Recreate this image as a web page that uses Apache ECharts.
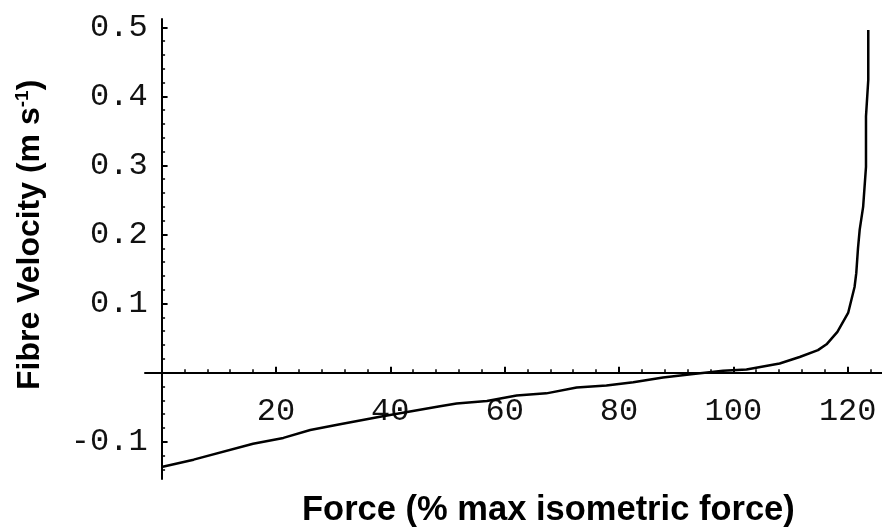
<!DOCTYPE html>
<html>
<head>
<meta charset="utf-8">
<script src="https://cdn.jsdelivr.net/npm/echarts@6/dist/echarts.min.js"></script>
<style>html,body{margin:0;padding:0;background:#fff}#c{width:882px;height:527px}</style>
</head>
<body>
<div id="c"></div>
<script>
// Force (% max isometric force)
var forceValues = [0, 5.6, 16, 21.3, 26, 31.2, 38.2, 48.7, 51.6, 56.9, 62.1, 67.3, 72.6, 77.8, 82.5, 87.7, 93, 98.2, 102.3, 108.1, 111.6, 114.8, 116.3, 118.2, 120.1, 121.2, 121.5, 121.8, 122.1, 122.7, 123.2, 123.2, 123.6, 123.6];
// Fibre velocity (m s^-1)
var velocityValues = [-0.1365, -0.126, -0.103, -0.0945, -0.083, -0.0746, -0.064, -0.0486, -0.0447, -0.041, -0.033, -0.030, -0.0215, -0.0186, -0.0138, -0.007, -0.002, 0.0026, 0.0046, 0.0133, 0.0226, 0.0326, 0.041, 0.059, 0.087, 0.124, 0.144, 0.18, 0.207, 0.240, 0.298, 0.371, 0.424, 0.496];

var xTickLabels = [20, 40, 60, 80, 100, 120];
var xMinorTicks = [4, 8, 12, 16, 24, 28, 32, 36, 44, 48, 52, 56, 64, 68, 72, 76, 84, 88, 92, 96, 104, 108, 112, 116, 124];
var yTickLabels = [-0.1, 0.1, 0.2, 0.3, 0.4, 0.5];
var yMinorTicks = [-0.14, -0.12, -0.08, -0.06, -0.04, -0.02, 0.02, 0.04, 0.06, 0.08, 0.12, 0.14, 0.16, 0.18, 0.22, 0.24, 0.26, 0.28, 0.32, 0.34, 0.36, 0.38, 0.42, 0.44, 0.46, 0.48];

var xTitle = 'Force (% max isometric force)';
var yTitleMain = 'Fibre Velocity (m s';
var yTitleSup = '-1';
var yTitleEnd = ')';

var data = forceValues.map(function (f, i) { return [f, velocityValues[i]]; });

var monoFont = "'Liberation Mono', 'Courier New', monospace";
var X_MIN = -2.9, X_MAX = 126, Y_MIN = -0.154, Y_MAX = 0.512;
// grid geometry (pixels)
var G_LEFT = 145, G_TOP = 19, G_W = 737, G_H = 460;
// place the axes where the other axis' zero falls (axes cross at the origin)
var xAxisOffset = -(G_H * (0 - Y_MIN) / (Y_MAX - Y_MIN));
var yAxisOffset = -(G_W * (0 - X_MIN) / (X_MAX - X_MIN));

var chart = echarts.init(document.getElementById('c'), null, {renderer: 'canvas'});
chart.setOption({
  animation: false,
  backgroundColor: '#fff',
  grid: {left: G_LEFT, top: G_TOP, width: G_W, height: G_H, containLabel: false},
  xAxis: [{
    type: 'value', min: X_MIN, max: X_MAX, position: 'bottom', offset: xAxisOffset,
    axisLine: {show: true, onZero: false, lineStyle: {color: '#000', width: 2}},
    axisTick: {show: true, inside: true, length: 6, lineStyle: {color: '#000', width: 2}, customValues: xTickLabels},
    axisLabel: {show: true, margin: 23, color: '#111', fontFamily: monoFont, fontSize: 32, customValues: xTickLabels,
      formatter: function (v) { return String(v); }},
    splitLine: {show: false}
  }, {
    type: 'value', min: X_MIN, max: X_MAX, position: 'bottom', offset: xAxisOffset,
    axisLine: {show: false, onZero: false},
    axisTick: {show: true, inside: true, length: 3.5, lineStyle: {color: '#000', width: 1.5}, customValues: xMinorTicks},
    axisLabel: {show: false},
    splitLine: {show: false}
  }],
  yAxis: [{
    type: 'value', min: Y_MIN, max: Y_MAX, position: 'left', offset: yAxisOffset,
    axisLine: {show: true, onZero: false, lineStyle: {color: '#000', width: 2}},
    axisTick: {show: true, inside: true, length: 6, lineStyle: {color: '#000', width: 2}, customValues: yTickLabels},
    axisLabel: {show: true, margin: 14, color: '#111', fontFamily: monoFont, fontSize: 32, customValues: yTickLabels,
      formatter: function (v) { return (Math.round(v * 10) / 10).toFixed(1); }},
    splitLine: {show: false}
  }, {
    type: 'value', min: Y_MIN, max: Y_MAX, position: 'left', offset: yAxisOffset,
    axisLine: {show: false, onZero: false},
    axisTick: {show: true, inside: true, length: 3.5, lineStyle: {color: '#000', width: 1.5}, customValues: yMinorTicks},
    axisLabel: {show: false},
    splitLine: {show: false}
  }],
  graphic: [{
    type: 'text', left: 302, top: 493,
    style: {text: xTitle, font: 'bold 34.5px "Liberation Sans", Arial, sans-serif', fill: '#000'}
  }, {
    type: 'text', x: 13, y: 390, rotation: Math.PI / 2,
    style: {
      text: '{m|' + yTitleMain + '}{s|' + yTitleSup + '}{m|' + yTitleEnd + '}',
      rich: {
        m: {font: 'bold 32px "Liberation Sans", Arial, sans-serif', fill: '#000', verticalAlign: 'bottom'},
        s: {font: 'bold 19px "Liberation Sans", Arial, sans-serif', fill: '#000', verticalAlign: 'top', padding: [0, 0, 14, 0]}
      },
      fill: '#000'
    }
  }],
  series: [{
    type: 'line', xAxisIndex: 0, yAxisIndex: 0, data: data,
    showSymbol: false, smooth: false,
    lineStyle: {color: '#000', width: 2.5}
  }]
});
</script>
</body>
</html>
